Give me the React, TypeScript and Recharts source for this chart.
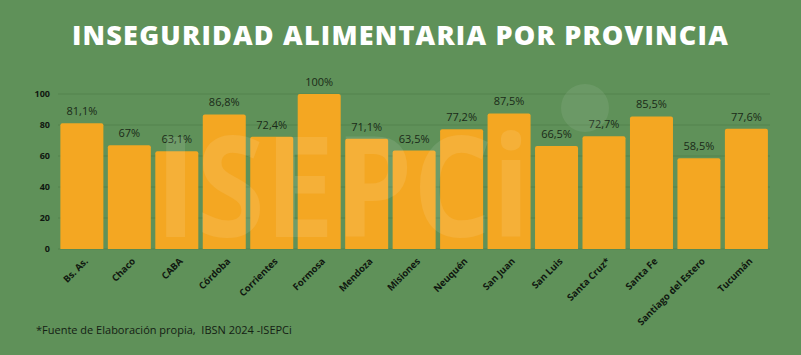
import { BarChart, Bar, XAxis, YAxis, CartesianGrid, LabelList } from "recharts";

const provincias = [
  "Bs. As.",
  "Chaco",
  "CABA",
  "Córdoba",
  "Corrientes",
  "Formosa",
  "Mendoza",
  "Misiones",
  "Neuquén",
  "San Juan",
  "San Luis",
  "Santa Cruz*",
  "Santa Fe",
  "Santiago del Estero",
  "Tucumán",
];
const inseguridad = [81.1, 67, 63.1, 86.8, 72.4, 100, 71.1, 63.5, 77.2, 87.5, 66.5, 72.7, 85.5, 58.5, 77.6];
const yTicks = [0, 20, 40, 60, 80, 100];

const BG = "#5f9159";
const BAR = "#f4a722";

const chartData = provincias.map((p, i) => ({ name: p, value: inseguridad[i] }));

const fmt = (v: number) => `${String(v).replace(".", ",")}%`;

function XTick(props: any) {
  const { x, y, payload } = props;
  return (
    <g transform={`translate(${x + 4},${y + 2})`}>
      <text
        transform="rotate(-45)"
        textAnchor="end"
        fontSize={9.5}
        fontWeight={700}
        fill="#101810"
        fontFamily="'Open Sans', sans-serif"
        dy={4}
      >
        {payload.value}
      </text>
    </g>
  );
}

export default function App() {
  return (
    <div
      style={{
        position: "absolute",
        left: 0,
        top: 0,
        width: 801,
        height: 355,
        background: BG,
        overflow: "hidden",
        fontFamily: "'Open Sans', sans-serif",
      }}
    >
      <div
        style={{
          position: "absolute",
          top: 16,
          left: 0,
          width: 801,
          textAlign: "center",
          color: "#ffffff",
          fontSize: 27,
          fontWeight: 800,
          letterSpacing: 1.2,
          fontFamily: "'Open Sans', sans-serif",
        }}
      >
        INSEGURIDAD ALIMENTARIA POR PROVINCIA
      </div>
      <div style={{ position: "absolute", left: 0, top: 0 }}>
        <BarChart
          width={801}
          height={355}
          data={chartData}
          margin={{ top: 94, right: 31, bottom: 76, left: 0 }}
          barCategoryGap="5%"
        >
          <CartesianGrid vertical={false} stroke="#55834e" strokeWidth={1} />
          <XAxis
            dataKey="name"
            interval={0}
            axisLine={false}
            tickLine={false}
            tick={<XTick />}
          />
          <YAxis
            width={58}
            domain={[0, 100]}
            ticks={yTicks}
            axisLine={false}
            tickLine={false}
            tick={{ fontSize: 9, fontWeight: 700, fill: "#101810" }}
          />
          <Bar dataKey="value" fill={BAR} radius={[2, 2, 0, 0]} isAnimationActive={false}>
            <LabelList
              dataKey="value"
              position="top"
              offset={8}
              formatter={(v: any) => fmt(v)}
              style={{ fontSize: 11, fill: "#1a2a18", fontFamily: "'Open Sans', sans-serif" }}
            />
          </Bar>
        </BarChart>
      </div>
      {/* faint watermark on top of the bars */}
      <svg
        width={801}
        height={355}
        style={{ position: "absolute", left: 0, top: 0, pointerEvents: "none" }}
      >
        <text
          x={155}
          y={237}
          fontSize={140}
          fontWeight={700}
          fill="#ffffff"
          fillOpacity={0.1}
          textLength={375}
          lengthAdjust="spacingAndGlyphs"
          fontFamily="'Open Sans', sans-serif"
        >
          ISEPCi
        </text>
        <circle cx={585} cy={108} r={24} fill="#ffffff" fillOpacity={0.08} />
      </svg>
      <div
        style={{
          position: "absolute",
          left: 36,
          top: 322,
          fontSize: 11,
          color: "#142014",
          whiteSpace: "pre",
        }}
      >
        {"*Fuente de Elaboración propia,  IBSN 2024 -ISEPCi"}
      </div>
    </div>
  );
}
